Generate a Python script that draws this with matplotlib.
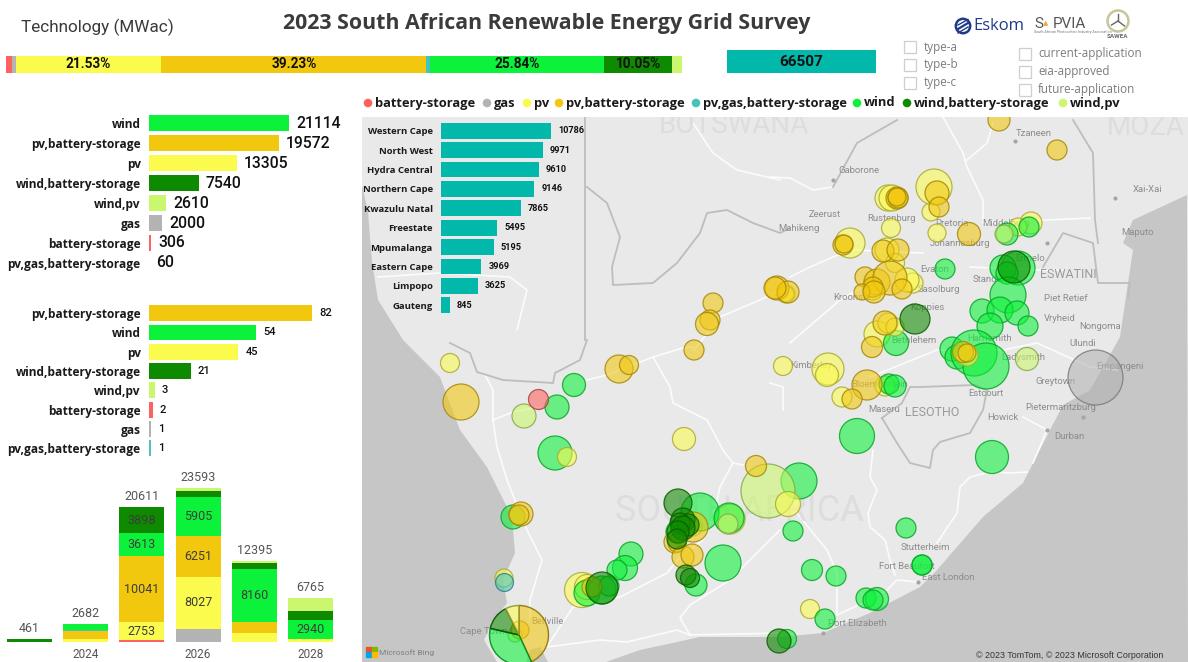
import matplotlib
matplotlib.use("Agg")
import matplotlib.pyplot as plt
from matplotlib.colors import to_rgba
from matplotlib.patches import Polygon, Wedge, Rectangle, Circle

W, H = 1188, 662

TEXT_FONT = ["Open Sans", "DejaVu Sans"]
NUM_FONT = ["Roboto", "DejaVu Sans"]

# legend order
techs = ["battery-storage", "gas", "pv", "pv,battery-storage", "pv,gas,battery-storage",
         "wind", "wind,battery-storage", "wind,pv"]
colors = {"battery-storage": "#FD625E", "gas": "#B3B3B3", "pv": "#FBFB4E",
          "pv,battery-storage": "#F2C80F", "pv,gas,battery-storage": "#46C4BA",
          "wind": "#0CF23A", "wind,battery-storage": "#0E8A00", "wind,pv": "#CBF76E"}
teal = "#01B8AA"

# capacity by technology
cap_names = ["wind", "pv,battery-storage", "pv", "wind,battery-storage", "wind,pv", "gas",
             "battery-storage", "pv,gas,battery-storage"]
cap_values = [21114, 19572, 13305, 7540, 2610, 2000, 306, 60]

# project count by technology
count_names = ["pv,battery-storage", "wind", "pv", "wind,battery-storage", "wind,pv",
               "battery-storage", "gas", "pv,gas,battery-storage"]
count_values = [82, 54, 45, 21, 3, 2, 1, 1]

# capacity by province
provinces = ["Western Cape", "North West", "Hydra Central", "Northern Cape", "Kwazulu Natal",
             "Freestate", "Mpumalanga", "Eastern Cape", "Limpopo", "Gauteng"]
province_values = [10786, 9971, 9610, 9146, 7865, 5495, 5195, 3969, 3625, 845]

# capacity by year (stacked)
years = [2023, 2024, 2025, 2026, 2027, 2028]
year_ticks = [2024, 2026, 2028]
year_totals = [461, 2682, 20611, 23593, 12395, 6765]
year_battery = [0, 0, 306, 0, 0, 0]
year_gas = [0, 0, 0, 2000, 0, 0]
year_pv = [0, 400, 2753, 8027, 1430, 450]
year_pvb = [0, 1310, 10041, 6251, 1630, 0]
year_pvgas = [0, 60, 0, 0, 0, 0]
year_wind = [0, 912, 3613, 5905, 8160, 2940]
year_windb = [461, 0, 3898, 950, 815, 1430]
year_windpv = [0, 0, 0, 460, 360, 1945]

# sites, (x, y, size) in the map grid
pv_sites = [(934, 187, 18), (931, 212, 9), (888, 198, 13), (892, 198, 13), (891, 228, 9.5),
            (937, 233, 9), (1031, 223, 11), (1018, 227, 9), (850, 243, 15), (887, 250, 12),
            (895, 263, 9.5), (873, 288, 9), (913, 283, 10), (907, 280, 12), (786, 294, 9),
            (877, 334, 13), (888, 323, 10), (783, 366, 9.5), (828, 369, 16), (827, 375, 11.5),
            (885, 386, 10), (842, 397, 10), (810, 609, 9.5), (450, 363, 9.5), (684, 439, 11.5),
            (730, 519, 15), (693, 527, 9), (582, 590, 17.5), (587, 587, 12.5), (504, 578, 9),
            (873, 291, 9), (786, 294, 8)]
pvb_sites = [(999, 120, 11), (1057, 150, 10), (937, 193, 12), (939, 207, 10), (897, 198, 11),
             (898, 198, 10), (897, 197, 9), (969, 234, 11.5), (843, 245, 10), (844, 244, 9), (883, 251, 11),
             (898, 250, 11), (865, 277, 10), (877, 282, 13), (890, 278, 17), (873, 287, 10),
             (862, 292, 8), (874, 292, 11), (902, 289, 10), (777, 288, 12), (788, 292, 11),
             (885, 323, 12), (872, 347, 10.5), (963, 352, 10.5), (967, 353, 9), (867, 385, 15), (852, 399, 10),
             (694, 350, 10), (619, 369, 14), (629, 365, 9.5), (461, 402, 18), (756, 466, 10.5),
             (693, 527, 15), (675, 542, 11), (677, 543, 9), (683, 557, 11), (692, 555, 11),
             (592, 587, 10), (521, 514, 12), (519, 515, 10), (520, 630, 9),
             (713, 303, 10), (710, 320, 10), (707, 324, 11.5), (775, 288, 11)]
wind_sites = [(1029, 227, 10), (1007, 234, 11), (945, 269, 10), (1018, 268, 17), (1003, 268, 13),
              (1007, 273, 11), (1008, 295, 18), (982, 311, 12), (1000, 310, 13), (1017, 313, 12),
              (990, 326, 13), (1028, 326, 10), (896, 343, 12.5), (952, 349, 12), (957, 357, 12),
              (974, 353, 23), (986, 366, 23), (889, 384, 10), (895, 386, 11), (857, 436, 17.5),
              (992, 457, 16.5), (799, 481, 18), (793, 531, 10), (906, 528, 10), (922, 565, 10),
              (922, 565, 10), (812, 570, 10.5), (836, 576, 10), (866, 598, 10), (877, 599, 11.5),
              (873, 600, 10), (825, 619, 10), (787, 639, 9.5), (574, 385, 11.5), (557, 407, 12),
              (555, 453, 17), (700, 512, 19), (729, 518, 15), (678, 532, 12), (723, 563, 18),
              (696, 585, 11), (631, 554, 12), (625, 568, 12.5), (617, 570, 10), (587, 593, 13),
              (602, 590, 14), (609, 586, 10), (513, 517, 12)]
windb_sites = [(1014, 267, 16), (915, 319, 15), (779, 641, 12), (678, 503, 14), (683, 520, 12),
               (688, 525, 11), (680, 523, 10), (683, 528, 12), (678, 532, 11), (677, 539, 10), (686, 575, 10),
               (690, 578, 9.5), (602, 588, 16)]
windpv_sites = [(1004, 234, 9), (1027, 359, 11.5), (768, 491, 27), (524, 416, 12), (728, 524, 10),
                (515, 635, 7)]
gas_sites = [(1095, 377, 27.5)]
battery_sites = [(538, 399, 10)]
pvgas_sites = [(504, 582, 9)]
# yellow sites that sit above the green ones
pv_top_sites = [(567, 457, 9.5), (788, 504, 12.5), (967, 355, 11), (895, 327, 9)]

# big bubble near Cape Town, share of each technology clockwise from north
pie_site = (519, 635, 29.5)
pie_names = ["pv,battery-storage", "wind", "wind,battery-storage", "pv"]
pie_shares = [155, 128, 50, 27]

# base map
land_color = "#E9E9E9"
sea_color = "#C6C6C6"
west_sea = [(362, 185), (368, 212), (372, 262), (378, 300), (400, 335), (403, 340), (440, 377),
            (460, 430), (487, 467), (512, 517), (515, 553), (503, 580), (507, 603), (492, 622),
            (484, 640), (497, 662), (362, 662)]
east_sea = [(606, 662), (640, 650), (677, 642), (700, 637), (780, 637), (823, 633), (870, 613),
            (920, 587), (937, 570), (983, 517), (1023, 483), (1050, 430), (1063, 405), (1090, 390),
            (1120, 337), (1128, 283), (1133, 250), (1123, 243), (1133, 220), (1187, 195),
            (1188, 662)]
false_bay = [(526, 662), (530, 650), (540, 647), (548, 662)]

roads = [
    [(485, 375), (493, 390), (493, 420), (497, 447), (507, 480), (527, 530), (542, 560), (530, 600), (530, 617)],
    [(493, 420), (513, 412), (540, 407)],
    [(587, 380), (607, 375), (653, 357), (683, 348), (693, 347)],
    [(653, 357), (670, 387), (673, 403), (707, 420), (723, 450), (733, 463), (743, 465)],
    [(733, 463), (720, 487), (713, 517), (703, 540), (680, 557), (667, 573), (620, 597), (573, 607), (548, 645)],
    [(547, 647), (600, 640), (627, 642), (677, 630), (690, 635), (780, 633)],
    [(780, 530), (730, 580), (690, 605), (680, 618), (690, 635)],
    [(873, 450), (870, 477), (877, 490), (868, 513), (870, 527), (885, 540), (890, 560), (895, 575)],
    [(797, 513), (813, 533), (827, 550), (837, 573), (837, 613)],
    [(837, 615), (863, 603), (887, 590), (897, 580), (918, 582)],
    [(937, 543), (957, 513), (960, 487), (970, 477), (990, 472), (1010, 473), (1027, 472)],
    [(1023, 417), (1047, 430), (1033, 463)],
    [(770, 177), (790, 178), (813, 190), (833, 187)],
    [(790, 277), (810, 267), (833, 257), (853, 250), (923, 253)],
    [(943, 117), (963, 153), (967, 167), (983, 200), (983, 223), (1090, 218)],
    [(967, 160), (987, 143), (993, 123)],
    [(790, 343), (840, 300), (880, 277)],
    [(770, 383), (783, 387), (783, 410)],
    [(870, 377), (937, 350), (1003, 350), (1037, 343), (1090, 367), (1117, 370)],
    [(970, 267), (1037, 270), (1063, 270)],
    [(693, 123), (713, 153), (737, 170), (780, 180)],
    [(378, 277), (440, 273), (510, 277), (527, 290), (517, 330)],
    [(694, 350), (720, 317), (760, 300), (790, 285)],
]
borders = [
    [(585, 117), (585, 340)],
    [(587, 187), (607, 203), (620, 237), (612, 267), (613, 285), (653, 283), (677, 263), (700, 233),
     (707, 213), (727, 210), (753, 223), (780, 233), (790, 228)],
    [(450, 343), (470, 353), (477, 372), (503, 380), (553, 383), (555, 373), (580, 360), (587, 340)],
    [(882, 418), (897, 443), (910, 463), (930, 468), (933, 450), (940, 442), (970, 433), (983, 410),
     (987, 390), (975, 385), (920, 387), (910, 387), (902, 403), (882, 418)],
    [(1043, 267), (1063, 233), (1093, 243), (1098, 283), (1130, 283), (1128, 297)],
    [(1073, 120), (1093, 153), (1095, 220), (1098, 243)],
    [(833, 187), (857, 143), (897, 120)],
]

cities = [("Tzaneen", 1034, 134), ("Gaborone", 859, 171), ("Xai-Xai", 1148, 190), ("Zeerust", 825, 215),
          ("Mahikeng", 799, 229), ("Rustenburg", 891, 219), ("Pretoria", 952, 224), ("Middelburg", 1006, 224),
          ("Maputo", 1138, 233), ("Johannesburg", 960, 244), ("Ermelo", 1030, 259),
          ("Evaton", 935, 270), ("Standerton", 996, 280), ("Kroonstad", 855, 298), ("Sasolburg", 939, 290),
          ("Piet Retief", 1066, 299), ("Vryheid", 1060, 319), ("Koppies", 927, 308), ("Nongoma", 1100, 327),
          ("Ulundi", 1083, 344), ("Bethlehem", 914, 341), ("Harrismith", 990, 339), ("Ladysmith", 1023, 358),
          ("Empangeni", 1120, 367), ("Kimberley", 811, 366), ("Greytown", 1055, 382), ("Bloemfontein", 880, 385),
          ("Estcourt", 986, 394), ("Maseru", 884, 410), ("Pietermaritzburg", 1061, 408), ("Howick", 1003, 418),
          ("Durban", 1069, 437), ("Stutterheim", 925, 548), ("Fort Beaufort", 907, 567), ("East London", 948, 578),
          ("Port Elizabeth", 857, 624), ("Bellville", 547, 622), ("Cape Town", 484, 632)]
faint_names = [("BOTSWANA", 734, 126, 20), ("MOZA", 1146, 128, 20), ("SOUTH AFRICA", 739, 511, 26)]
country_names = [("ESWATINI", 1068, 275), ("LESOTHO", 932, 413)]
road_dots = [(833, 180), (1015, 141), (1047, 243), (1115, 198), (1083, 417), (1047, 430), (823, 633), (918, 582)]


def px_axes(left, top, right, bottom):
    return fig.add_axes([left / W, 1 - bottom / H, (right - left) / W, (bottom - top) / H])


def clean(ax):
    for s in ax.spines.values():
        s.set_visible(False)
    ax.patch.set_alpha(0)


def h_bars(ax, names, values, xmax, value_size, value_font, value_weight, value_pad, value_color="#111111",
           bar_colors=None):
    ypos = list(range(len(names)))
    if bar_colors is None:
        bar_colors = [colors[n] for n in names]
    ax.barh(ypos, values, height=0.82, color=bar_colors)
    ax.set_xlim(0, xmax)
    ax.set_ylim(len(names) - 0.5, -0.5)
    ax.set_yticks(ypos, names, fontfamily=TEXT_FONT, fontweight="bold", fontsize=8.6, color="#1a1a1a")
    ax.tick_params(axis="y", length=0, pad=6)
    ax.set_xticks([])
    clean(ax)
    for y, v in zip(ypos, values):
        ax.annotate(str(v), (v, y), xytext=(value_pad, 0), textcoords="offset points", va="center",
                    fontsize=value_size, family=value_font, fontweight=value_weight, color=value_color)


fig = plt.figure(figsize=(W / 100, H / 100), dpi=100, facecolor="white")

# map
mp = px_axes(362, 117, 1188, 662)
mp.set_xlim(362, 1188)
mp.set_ylim(662, 117)
mp.set_facecolor(land_color)
mp.set_xticks([])
mp.set_yticks([])
for s in mp.spines.values():
    s.set_visible(False)
for poly in [west_sea, east_sea, false_bay]:
    mp.add_patch(Polygon(poly, closed=True, fc=sea_color, ec="none", zorder=1))
for r in roads:
    mp.plot([p[0] for p in r], [p[1] for p in r], color="white", lw=1.2, alpha=0.85, zorder=2,
            solid_joinstyle="round")
for b in borders:
    mp.plot([p[0] for p in b], [p[1] for p in b], color="#BDBDBD", lw=1.3, zorder=2.5)
mp.scatter([p[0] for p in road_dots], [p[1] for p in road_dots], s=4, color="#A5A5A5", zorder=2.6)
for name, x, y, fs in faint_names:
    mp.text(x, y, name, fontsize=fs, color="#DDDDDD", ha="center", va="center", family=["Roboto"], zorder=2.7,
            clip_on=True)
for name, x, y in country_names:
    mp.text(x, y, name, fontsize=9, color="#9A9A9A", ha="center", va="center", family=["Roboto"], zorder=2.8)
for name, x, y in cities:
    mp.text(x, y, name, fontsize=6.8, color="#8C8C8C", ha="center", va="center", family=["Roboto"], zorder=2.8)


def bubbles(sites, tech, zorder):
    col = colors[tech]
    # radius given in map grid = screen pixels here, scatter wants points squared
    sizes = [(2 * s[2] * 0.72) ** 2 for s in sites]
    fc = to_rgba(col, 0.58)
    base = to_rgba(col)
    ec = (base[0] * 0.68, base[1] * 0.68, base[2] * 0.68, 0.85)
    mp.scatter([s[0] for s in sites], [s[1] for s in sites], s=sizes, facecolor=fc, edgecolor=ec,
               linewidth=0.9, zorder=zorder)


bubbles(pv_sites, "pv", 3)
bubbles(wind_sites, "wind", 3.1)
bubbles(windpv_sites, "wind,pv", 3.2)
bubbles(pv_top_sites, "pv", 3.3)
bubbles(pvb_sites, "pv,battery-storage", 3.4)
bubbles(windb_sites, "wind,battery-storage", 3.5)
bubbles(gas_sites, "gas", 3.6)
bubbles(battery_sites, "battery-storage", 3.6)
bubbles(pvgas_sites, "pv,gas,battery-storage", 3.6)

start = 0
for name, share in zip(pie_names, pie_shares):
    base = to_rgba(colors[name])
    # y axis points down, so angles run clockwise on screen
    w = Wedge(pie_site[:2], pie_site[2], start - 90, start + share - 90, facecolor=to_rgba(colors[name], 0.58),
              edgecolor=(base[0] * 0.6, base[1] * 0.6, base[2] * 0.6, 0.95), linewidth=1.0, zorder=3.45)
    mp.add_patch(w)
    start += share

mp.text(379, 652.5, "Microsoft Bing", fontsize=6, color="#808080", va="center", family=["Roboto"], zorder=5)
for i, c in enumerate(["#F25022", "#7FBA00", "#00A4EF", "#FFB900"]):
    mp.add_patch(Rectangle((366 + (i % 2) * 5.5, 647 + (i // 2) * 5.5), 5, 5, color=c, zorder=5))
mp.text(1163, 655.5, "© 2023 TomTom, © 2023 Microsoft Corporation", fontsize=6.4, color="#333333", ha="right",
        va="center", family=["Liberation Sans"], zorder=5)

# overlay in screen pixels for title, legend, slicers
top = px_axes(0, 0, W, H)
top.set_xlim(0, W)
top.set_ylim(H, 0)
top.axis("off")
top.patch.set_alpha(0)

top.text(21, 27.5, "Technology (MWac)", fontsize=12.3, color="#3a3a3a", va="center", family=["Roboto"])
top.text(547, 23.5, "2023 South African Renewable Energy Grid Survey", fontsize=15.4, color="#3b3b3b",
         ha="center", va="center", family=TEXT_FONT, fontweight="bold")

legend_dots = [368, 487, 527, 559, 696, 857, 907, 1063]
for name, x in zip(techs, legend_dots):
    top.add_patch(Circle((x, 103), 4.3, color=colors[name], lw=0))
    top.text(x + 7, 103, name, fontsize=9.3, fontweight="bold", color="#1a1a1a", va="center", family=TEXT_FONT)

slicer_one = ["type-a", "type-b", "type-c"]
slicer_two = ["current-application", "eia-approved", "future-application"]
for i, name in enumerate(slicer_one):
    y = 47 + i * 17.8
    top.add_patch(Rectangle((904, y - 6), 12, 12, fc="white", ec="#CFCFCF", lw=0.9))
    top.text(924, y, name, fontsize=8.4, color="#7C7C7C", va="center", family=TEXT_FONT)
for i, name in enumerate(slicer_two):
    y = 54 + i * 17.8
    top.add_patch(Rectangle((1019, y - 6), 12, 12, fc="white", ec="#CFCFCF", lw=0.9))
    top.text(1038, y, name, fontsize=8.4, color="#7C7C7C", va="center", family=TEXT_FONT)

# logos
navy = "#1E3A8A"
top.add_patch(Circle((963, 26), 7.2, fc="white", ec=navy, lw=1.8))
top.plot([958, 968], [29, 23], color=navy, lw=1.6)
top.plot([958, 968], [25, 19.5], color=navy, lw=1.0)
top.plot([958, 968], [33, 27], color=navy, lw=1.0)
top.text(973, 26, "Eskom", fontsize=12, color=navy, va="center", family=TEXT_FONT)
top.text(1034, 24, "S", fontsize=11, color="#555555", va="center", family=["Roboto"])
top.text(1043, 23, "▲", fontsize=5, color="#F2A33A", va="center", family=["DejaVu Sans"])
top.text(1053, 24, "PVIA", fontsize=11, color="#555555", va="center", family=["Roboto"])
top.text(1034, 31.5, "South African Photovoltaic Industry Association", fontsize=2.6, color="#777777", va="center",
         family=["Roboto"])
top.add_patch(Circle((1118, 21), 10.5, fc="white", ec="#C9C59A", lw=1.8))
for dx, dy in [(0, -7), (6.5, 5), (-6.5, 4)]:
    top.plot([1118, 1118 + dx], [21, 21 + dy], color="#666666", lw=1.0)
top.text(1118, 37, "SAWEA", fontsize=4.6, color="#666666", ha="center", va="center", fontweight="bold",
         family=["Roboto"])

# KPI card
kpi = px_axes(727, 50, 876, 73)
kpi.set_facecolor(teal)
kpi.set_xticks([])
kpi.set_yticks([])
for s in kpi.spines.values():
    s.set_visible(False)
kpi.text(0.5, 0.47, f"{sum(cap_values)}", transform=kpi.transAxes, ha="center", va="center", fontsize=11,
         fontweight="bold", color="#111111", family=NUM_FONT)

# 100% bar from project counts
share_ax = px_axes(6, 56, 682, 73)
total_count = sum(count_values)
left = 0
for name in techs:
    v = count_values[count_names.index(name)]
    share_ax.barh(0, v, left=left, height=1, color=colors[name])
    pct = 100 * v / total_count
    if pct > 5:
        share_ax.text(left + v / 2, 0, f"{pct:.2f}%", ha="center", va="center", fontsize=9.8, fontweight="bold",
                      color="#111111", family=NUM_FONT)
    left += v
share_ax.set_xlim(0, total_count)
share_ax.set_ylim(-0.5, 0.5)
share_ax.axis("off")

# bar lists on the left
cap_ax = px_axes(149, 113, 349, 273)
h_bars(cap_ax, cap_names, cap_values, 21114 * 200 / 140, 11.3, NUM_FONT, "medium", 5)
count_ax = px_axes(149, 303.5, 349, 458)
h_bars(count_ax, count_names, count_values, 82 * 200 / 163, 8, NUM_FONT, "medium", 5)

# province bars above the map
prov_ax = px_axes(441, 121, 591, 315)
h_bars(prov_ax, provinces, province_values, 10786 * 150 / 110, 6.6, NUM_FONT, "bold", 5,
       bar_colors=[teal] * len(provinces))
prov_ax.tick_params(axis="y", labelsize=6.8, pad=6)

# stacked columns by year
col_ax = px_axes(1.5, 480, 338.5, 642)
xpos = list(range(len(years)))
bottoms = [0] * len(years)
year_stack = [("battery-storage", year_battery), ("gas", year_gas), ("pv", year_pv), ("pv,battery-storage", year_pvb),
              ("pv,gas,battery-storage", year_pvgas), ("wind", year_wind), ("wind,battery-storage", year_windb),
              ("wind,pv", year_windpv)]
for name, vals in year_stack:
    col_ax.bar(xpos, vals, bottom=bottoms, width=0.8, color=colors[name])
    for x, v, b in zip(xpos, vals, bottoms):
        if v >= 2700:
            col_ax.text(x, b + v / 2, str(v), ha="center", va="center", fontsize=9, color="#3d3d3d",
                        family=NUM_FONT)
    bottoms = [b + v for b, v in zip(bottoms, vals)]
for x, t in zip(xpos, year_totals):
    col_ax.annotate(str(t), (x, t), xytext=(0, 3), textcoords="offset points", ha="center", va="bottom", fontsize=9,
                    color="#555555", family=NUM_FONT, annotation_clip=False)
col_ax.set_xlim(-0.5, 5.5)
col_ax.set_ylim(0, 162 / 0.00653)
col_ax.set_xticks([years.index(y) for y in year_ticks], [str(y) for y in year_ticks], fontsize=8.5, color="#555555",
                  family=NUM_FONT)
col_ax.set_yticks([])
col_ax.tick_params(axis="x", length=0, pad=4)
clean(col_ax)

fig.savefig("out.png", dpi=100)
